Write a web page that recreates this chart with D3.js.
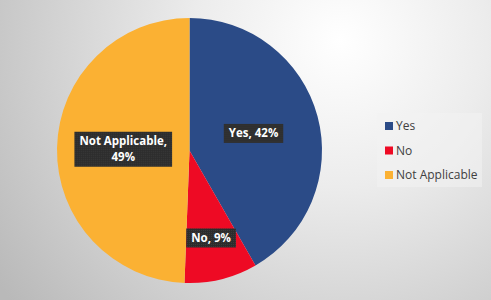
<!DOCTYPE html>
<html>
<head>
<meta charset="utf-8">
<script src="https://cdn.jsdelivr.net/npm/d3@7"></script>
<style>
  html, body { margin: 0; padding: 0; background: #d0d0d0; }
  #viz { width: 491px; height: 300px; }
</style>
</head>
<body>
<div id="viz"></div>
<script>
// chart data
var categories = ["Yes", "No", "Not Applicable"];
var values = [41.7, 8.9, 49.4];
var colours = ["#2b4b87", "#ee0a24", "#fbb133"];

var width = 491, height = 300;

var svg = d3.select("#viz").append("svg")
    .attr("width", width)
    .attr("height", height)
    .style("font-family", "'Open Sans', sans-serif");

var defs = svg.append("defs");

// radial gray background, light at the upper right
var grad = defs.append("radialGradient")
    .attr("id", "bg")
    .attr("gradientUnits", "userSpaceOnUse")
    .attr("cx", 340).attr("cy", 40).attr("r", 420);
grad.append("stop").attr("offset", "0%").attr("stop-color", "#ffffff");
grad.append("stop").attr("offset", "35%").attr("stop-color", "#ececec");
grad.append("stop").attr("offset", "100%").attr("stop-color", "#b9b9b9");

svg.append("rect")
    .attr("width", width).attr("height", height)
    .attr("fill", "url(#bg)");

// dotted dark fill behind the data labels
var pat = defs.append("pattern")
    .attr("id", "dots")
    .attr("patternUnits", "userSpaceOnUse")
    .attr("width", 2).attr("height", 2);
pat.append("rect").attr("width", 2).attr("height", 2).attr("fill", "#2c2c2c");
pat.append("rect").attr("width", 1).attr("height", 1).attr("fill", "#3c3c3c");

var cx = 189.5, cy = 150.5, r = 132.5;

var pie = d3.pie().sort(null).value(function (d) { return d; });
var arcs = pie(values);
var arc = d3.arc().innerRadius(0).outerRadius(r);

var g = svg.append("g").attr("transform", "translate(" + cx + "," + cy + ")");

g.selectAll("path.slice")
    .data(arcs)
    .enter().append("path")
    .attr("class", "slice")
    .attr("d", arc)
    .attr("fill", function (d, i) { return colours[i]; });

var total = d3.sum(values);

// small slices get their label pushed further out
var innerLabel = d3.arc().innerRadius(r * 0.5).outerRadius(r * 0.5);
var outerLabel = d3.arc().innerRadius(r * 0.68).outerRadius(r * 0.68);

arcs.forEach(function (d, i) {
    var pct = Math.round(d.value / total * 100) + "%";
    var frac = d.value / total;
    var c = (frac < 0.15 ? outerLabel : innerLabel).centroid(d);
    var lines = categories[i].length > 8 ? [categories[i] + ",", pct] : [categories[i] + ", " + pct];

    var lg = g.append("g").attr("transform", "translate(" + c[0] + "," + c[1] + ")");
    var box = lg.append("rect").attr("fill", "url(#dots)");
    var lh = 16;
    var texts = lines.map(function (t, k) {
        return lg.append("text")
            .attr("text-anchor", "middle")
            .attr("y", (k - (lines.length - 1) / 2) * lh)
            .attr("dy", "0.35em")
            .attr("fill", "#ffffff")
            .attr("font-weight", "bold")
            .attr("font-size", 11.5)
            .text(t);
    });
    var w = d3.max(texts, function (t) { return t.node().getComputedTextLength(); });
    var bh = lines.length * lh + 3;
    box.attr("x", -w / 2 - 5).attr("y", -bh / 2)
       .attr("width", w + 10).attr("height", bh);
});

// legend
var legend = svg.append("g").attr("transform", "translate(377,113)");
legend.append("rect")
    .attr("width", 105).attr("height", 74)
    .attr("fill", "#f2f2f2").attr("fill-opacity", 0.55);

var items = legend.selectAll("g.item")
    .data(categories)
    .enter().append("g")
    .attr("class", "item")
    .attr("transform", function (d, i) { return "translate(8," + (13 + i * 24.5) + ")"; });

items.append("rect")
    .attr("x", 0).attr("y", -4)
    .attr("width", 8).attr("height", 8)
    .attr("fill", function (d, i) { return colours[i]; });

items.append("text")
    .attr("x", 11)
    .attr("dy", "0.35em")
    .attr("font-size", 12)
    .attr("fill", "#404040")
    .text(function (d) { return d; });
</script>
</body>
</html>
